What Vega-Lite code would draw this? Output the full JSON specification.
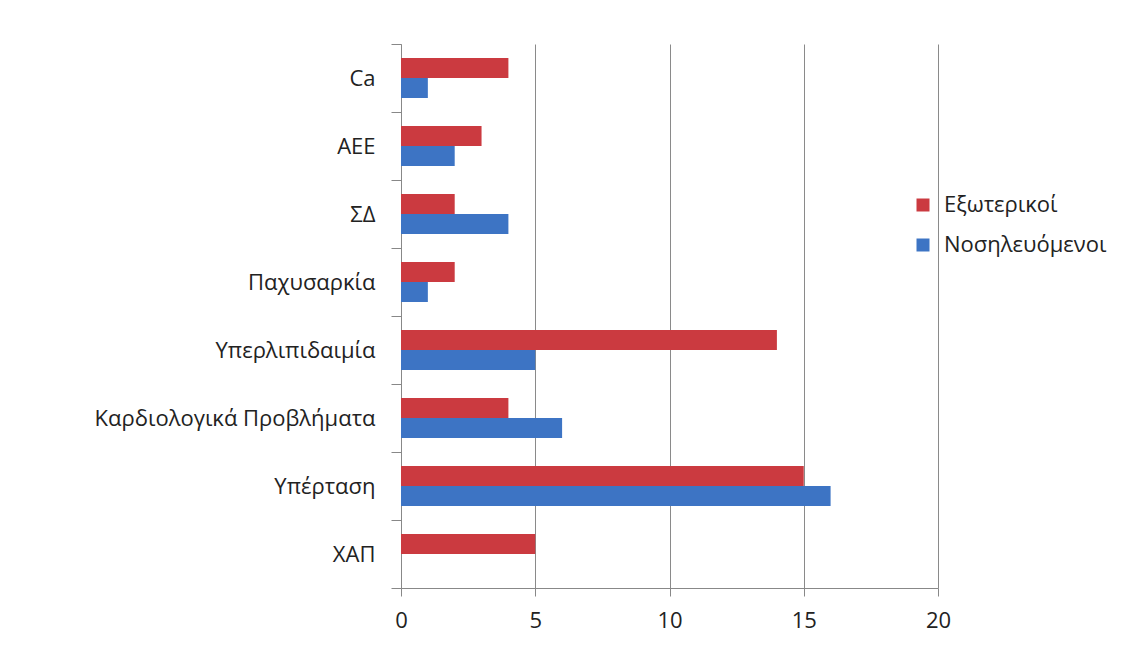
{
  "$schema": "https://vega.github.io/schema/vega-lite/v6.json",
  "width": 537,
  "height": 544,
  "autosize": {"type": "none"},
  "padding": {"left": 401, "top": 44, "right": 194, "bottom": 71},
  "background": "white",
  "config": {
    "view": {"stroke": null},
    "font": "Open Sans",
    "axis": {"labelFont": "Open Sans", "labelColor": "#222"},
    "legend": {"labelFont": "Open Sans"}
  },
  "data": {
    "values": [
      {"category": "Ca", "group": "Εξωτερικοί", "value": 4},
      {"category": "Ca", "group": "Νοσηλευόμενοι", "value": 1},
      {"category": "ΑΕΕ", "group": "Εξωτερικοί", "value": 3},
      {"category": "ΑΕΕ", "group": "Νοσηλευόμενοι", "value": 2},
      {"category": "ΣΔ", "group": "Εξωτερικοί", "value": 2},
      {"category": "ΣΔ", "group": "Νοσηλευόμενοι", "value": 4},
      {"category": "Παχυσαρκία", "group": "Εξωτερικοί", "value": 2},
      {"category": "Παχυσαρκία", "group": "Νοσηλευόμενοι", "value": 1},
      {"category": "Υπερλιπιδαιμία", "group": "Εξωτερικοί", "value": 14},
      {"category": "Υπερλιπιδαιμία", "group": "Νοσηλευόμενοι", "value": 5},
      {"category": "Καρδιολογικά Προβλήματα", "group": "Εξωτερικοί", "value": 4},
      {"category": "Καρδιολογικά Προβλήματα", "group": "Νοσηλευόμενοι", "value": 6},
      {"category": "Υπέρταση", "group": "Εξωτερικοί", "value": 15},
      {"category": "Υπέρταση", "group": "Νοσηλευόμενοι", "value": 16},
      {"category": "ΧΑΠ", "group": "Εξωτερικοί", "value": 5},
      {"category": "ΧΑΠ", "group": "Νοσηλευόμενοι", "value": 0}
    ]
  },
  "mark": {"type": "bar"},
  "encoding": {
    "y": {
      "field": "category",
      "type": "nominal",
      "sort": ["Ca", "ΑΕΕ", "ΣΔ", "Παχυσαρκία", "Υπερλιπιδαιμία", "Καρδιολογικά Προβλήματα", "Υπέρταση", "ΧΑΠ"],
      "scale": {"paddingInner": 0, "paddingOuter": 0},
      "axis": {
        "title": null,
        "tickBand": "extent",
        "tickSize": 10,
        "tickColor": "#888",
        "domainColor": "#888",
        "labelPadding": 16,
        "labelFontSize": 22,
        "labelLimit": 400,
        "grid": false
      }
    },
    "yOffset": {
      "field": "group",
      "type": "nominal",
      "sort": ["Εξωτερικοί", "Νοσηλευόμενοι"],
      "scale": {"paddingInner": 0, "paddingOuter": 0.7}
    },
    "x": {
      "field": "value",
      "type": "quantitative",
      "scale": {"domain": [0, 20], "nice": false},
      "axis": {
        "title": null,
        "values": [0, 5, 10, 15, 20],
        "tickSize": 8,
        "tickColor": "#888",
        "domainColor": "#888",
        "grid": true,
        "gridColor": "#8a8a8a",
        "gridOpacity": 1,
        "labelFlush": false,
        "labelPadding": 14,
        "labelFontSize": 22
      }
    },
    "color": {
      "field": "group",
      "type": "nominal",
      "sort": ["Εξωτερικοί", "Νοσηλευόμενοι"],
      "scale": {"domain": ["Εξωτερικοί", "Νοσηλευόμενοι"], "range": ["#CB3A40", "#3D74C4"]},
      "legend": {
        "title": null,
        "orient": "none",
        "legendX": 511,
        "legendY": 150,
        "symbolType": "square",
        "symbolSize": 169,
        "symbolStrokeWidth": 0,
        "labelFontSize": 22,
        "labelColor": "#222",
        "labelOffset": 10,
        "labelLimit": 300,
        "rowPadding": 18
      }
    }
  }
}
